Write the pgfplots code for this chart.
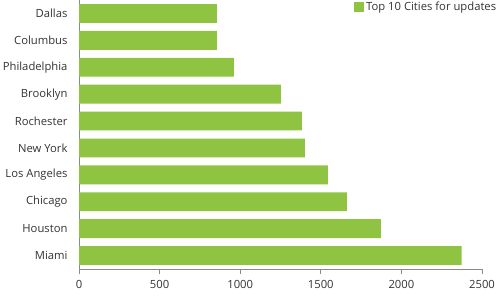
\documentclass[border=0pt]{standalone}
\usepackage{pgfplots}
\pgfplotsset{compat=1.18}
\usepackage{fontspec}
\setmainfont{Open Sans}
\definecolor{bargreen}{HTML}{8EC441}
\definecolor{axgray}{HTML}{8A8A8A}
\definecolor{txt}{HTML}{333333}
\begin{document}
\begin{tikzpicture}
\path[use as bounding box] (0,0) rectangle (500bp,300bp);
\begin{axis}[
  at={(79bp,31bp)}, anchor=south west,
  scale only axis, width=403bp, height=269bp,
  xmin=0, xmax=2500, ymin=-0.5, ymax=9.5,
  axis x line*=bottom, axis y line*=left,
  axis line style={axgray, line width=0.8bp},
  xtick={0,500,1000,1500,2000,2500},
  ytick={0,...,9},
  yticklabels={Miami,Houston,Chicago,Los Angeles,New York,Rochester,Brooklyn,Philadelphia,Columbus,Dallas},
  minor ytick={-0.5,0.5,...,9.5},
  tick align=outside,
  major tick length=5bp, minor tick length=5bp,
  ytick style={draw=none},
  minor tick style={axgray, line width=0.8bp, draw=axgray},
  xtick style={axgray, line width=0.8bp},
  tick label style={font=\fontsize{11.3}{13}\selectfont, text=txt},
  /pgf/number format/assume math mode=true,
  /pgf/number format/1000 sep={},
  yticklabel style={xshift=-3bp},
  xticklabel style={yshift=-3bp},
  legend style={at={(1.048,1.01)}, anchor=north east, draw=none, fill=none,
    font=\fontsize{11.3}{13}\selectfont, text=txt},
  legend image code/.code={\fill[#1] (0bp,-5bp) rectangle (10bp,5bp);},
]
\addplot[xbar, bar width=0.7, fill=bargreen, draw=none] coordinates {
(2374,0) (1872,1) (1661,2) (1544,3) (1401,4) (1383,5) (1252,6) (961,7) (855,8) (855,9)};
\addlegendentry{Top 10 Cities for updates}
\end{axis}
\end{tikzpicture}
\end{document}
